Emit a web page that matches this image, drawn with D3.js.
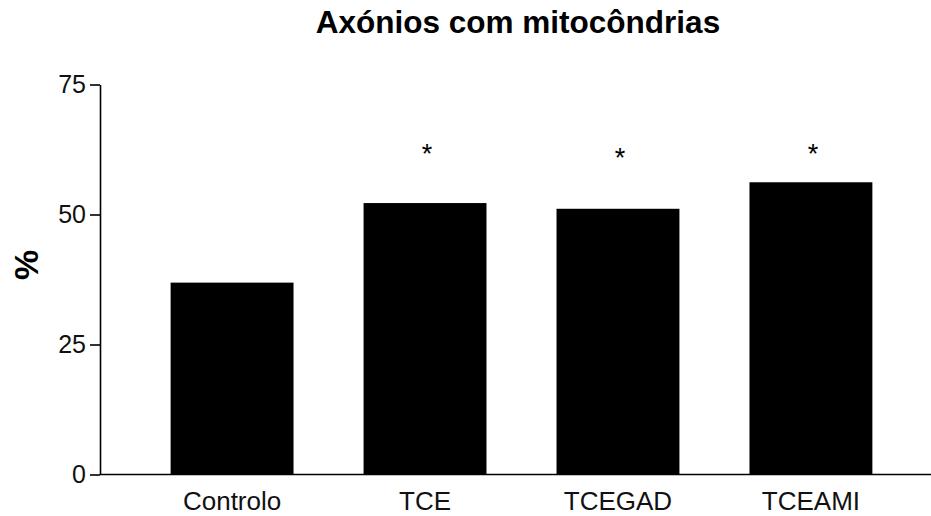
<!DOCTYPE html>
<meta charset="utf-8">
<style>
body { margin: 0; background: #fff; }
text { font-family: "Liberation Sans", Arial, sans-serif; }
.axis path, .axis line { stroke: #000; stroke-width: 1.6; }
.axis text { font-size: 25px; fill: #111; }
</style>
<head>
  <script src="https://d3js.org/d3.v7.min.js"></script>
</head>
<svg width="931" height="516"></svg>
<script>

var groups = ["Controlo", "TCE", "TCEGAD", "TCEAMI"];
var values = [36.9, 52.2, 51.1, 56.2];
var starLevel = [null, 62.8, 62.1, 62.8];
var yTicks = [0, 25, 50, 75];

var svg = d3.select("svg");

var x = d3.scaleBand()
    .domain(groups)
    .range([100, 943])
    .paddingInner(0.363)
    .paddingOuter(0.366);

var y = d3.scaleLinear().domain([0, 75]).range([474.5, 84.5]);

svg.append("text")
    .attr("x", 518)
    .attr("y", 33)
    .attr("text-anchor", "middle")
    .style("font-size", "31.5px")
    .style("font-weight", "bold")
    .text("Axónios com mitocôndrias");

svg.selectAll(".bar")
  .data(groups)
  .enter().append("rect")
    .attr("class", "bar")
    .attr("x", function(d) { return x(d); })
    .attr("y", function(d, i) { return y(values[i]); })
    .attr("width", x.bandwidth())
    .attr("height", function(d, i) { return y(0) - y(values[i]); })
    .attr("fill", "#000");

svg.selectAll(".star")
  .data(groups.filter(function(d, i) { return starLevel[i] != null; }))
  .enter().append("text")
    .attr("class", "star")
    .attr("x", function(d) { return x(d) + x.bandwidth() / 2 + 2; })
    .attr("y", function(d) { return y(starLevel[groups.indexOf(d)]) + 15; })
    .attr("text-anchor", "middle")
    .style("font-size", "27px")
    .text("*");

// x axis
var gx = svg.append("g")
    .attr("class", "axis")
    .attr("transform", "translate(0," + y(0) + ")")
    .call(d3.axisBottom(x).tickSize(0).tickPadding(10));
gx.select(".domain").attr("d", "M100,0H931");
gx.selectAll("text").attr("dy", "0.71em").attr("y", 17).style("font-size", "26px");

// y axis
var gy = svg.append("g")
    .attr("class", "axis")
    .attr("transform", "translate(100,0)")
    .call(d3.axisLeft(y).tickValues(yTicks).tickSize(10).tickSizeOuter(0).tickPadding(4));

svg.append("text")
    .attr("transform", "translate(38,265) rotate(-90)")
    .attr("text-anchor", "middle")
    .style("font-size", "34px")
    .style("font-weight", "bold")
    .text("%");

</script>
